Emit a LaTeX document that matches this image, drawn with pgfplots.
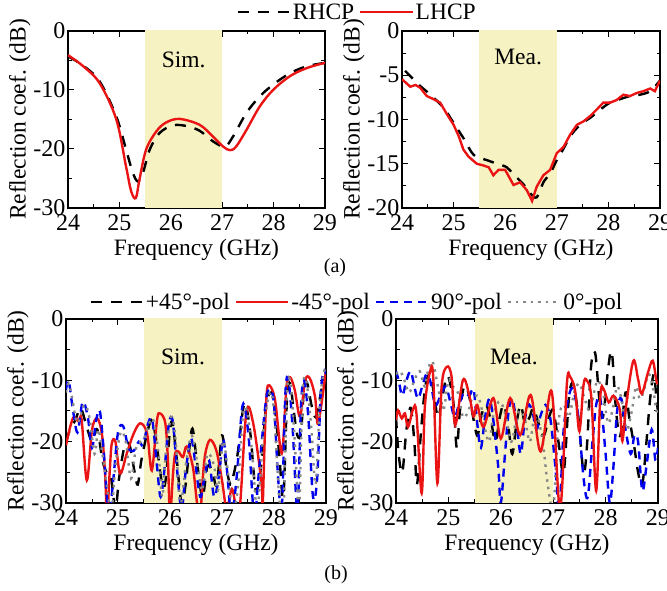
\documentclass[border=0pt]{standalone}
\usepackage{fontspec}
\setmainfont{Liberation Serif}
\usepackage{pgfplots}
\pgfplotsset{compat=1.18}
\definecolor{SimFill}{RGB}{246,242,194}
\definecolor{PolRed}{RGB}{235,20,20}
\definecolor{PolBlue}{RGB}{0,0,240}
\definecolor{PolGray}{RGB}{135,135,135}

\pgfplotsset{
  refax/.style={
    scale only axis, anchor=south west,
    xmin=24, xmax=29,
    xtick={24,25,26,27,28,29}, xticklabels={24,25,26,27,28,29},
    minor x tick num=1, minor y tick num=1,
    axis line style={line width=1.2pt},
    tick style={line width=1pt,black},
    major tick length=6pt, minor tick length=3.5pt,
    tick label style={font=\fontsize{24}{26}\selectfont},
    xticklabel style={yshift=-3pt},
    yticklabel style={xshift=1pt},
    label style={font=\fontsize{23.5}{26}\selectfont},
    xlabel={Frequency (GHz)}, ylabel={Reflection coef. (dB)},
    xlabel style={yshift=-2pt}, ylabel style={yshift=-4pt},
    legend style={draw=none, fill=none, font=\fontsize{23.5}{26}\selectfont, anchor=center,
      /tikz/every even column/.append style={column sep=3pt}},
    legend image code/.code={\draw[#1] plot coordinates {(0pt,0pt) (26pt,0pt) (52pt,0pt)};},
  },
  kdash/.style={black, line width=2.4pt, dash pattern=on 11pt off 9pt, smooth, tension=0.55},
  rsolid/.style={PolRed, line width=2.4pt, smooth, tension=0.55},
  bdash/.style={PolBlue, line width=2.4pt, dash pattern=on 8pt off 6pt, smooth, tension=0.55},
  gdot/.style={PolGray, line width=2.4pt, dash pattern=on 2.5pt off 5pt, smooth, tension=0.55},
}

\begin{document}
\begin{tikzpicture}[x=1pt,y=1pt]
\useasboundingbox (0,0) rectangle (667,591);

% (a) simulated
\begin{axis}[refax, at={(68pt,383pt)}, width=257pt, height=177pt,
  ymin=-30, ymax=0, ytick={-30,-20,-10,0}, yticklabels={-30,-20,-10,0},
  legend columns=2, legend style={at={(1.125,1.107)}}]
  \addplot[draw=none, fill=SimFill, forget plot] coordinates {(25.5,-40) (27,-40) (27,10) (25.5,10)} -- cycle;
  \node[font=\fontsize{23.5}{26}\selectfont] at (axis cs:26.25,-4.9) {Sim.};
  \addplot[kdash] coordinates {
    (24.00,-4.3) (24.30,-5.9) (24.62,-8.6) (24.94,-14.5) (25.13,-20.1) (25.26,-24.0)
    (25.36,-25.5) (25.46,-24.0) (25.59,-20.1) (25.78,-17.3) (26.04,-16.0) (26.30,-16.1)
    (26.56,-16.9) (26.82,-18.7) (27.05,-19.6) (27.21,-17.9) (27.47,-13.9) (27.73,-11.1)
    (27.99,-9.1) (28.31,-7.2) (28.64,-6.0) (29.00,-5.4)};
  \addplot[rsolid] coordinates {
    (24.00,-4.1) (24.30,-6.0) (24.62,-8.9) (24.94,-15.0) (25.13,-23.0) (25.23,-27.2)
    (25.32,-28.3) (25.39,-25.2) (25.52,-20.1) (25.72,-17.0) (25.91,-15.5) (26.17,-14.9)
    (26.56,-15.9) (26.82,-17.9) (27.02,-19.6) (27.15,-20.2) (27.27,-19.6) (27.47,-16.8)
    (27.73,-12.8) (27.99,-10.0) (28.31,-7.7) (28.64,-6.3) (29.00,-5.4)};
  \legend{RHCP, LHCP}
\end{axis}

% (a) measured
\begin{axis}[refax, at={(402pt,383pt)}, width=258pt, height=177pt,
  ymin=-20, ymax=0, ytick={-20,-15,-10,-5,0}, yticklabels={-20,-15,-10,-5,0}]
  \addplot[draw=none, fill=SimFill] coordinates {(25.5,-40) (27,-40) (27,10) (25.5,10)} -- cycle;
  \node[font=\fontsize{23.5}{26}\selectfont] at (axis cs:26.25,-2.9) {Mea.};
  \addplot[kdash] coordinates {
    (24.06,-4.5) (24.16,-5.1) (24.35,-6.2) (24.55,-7.2) (24.81,-8.7) (25.00,-10.4)
    (25.19,-12.1) (25.39,-14.0) (25.65,-14.6) (25.84,-15.0) (26.03,-15.4) (26.16,-16.2)
    (26.35,-17.3) (26.48,-18.3) (26.61,-18.8) (26.74,-17.1) (26.87,-16.1) (27.00,-14.6)
    (27.13,-13.3) (27.26,-11.9) (27.45,-10.6) (27.65,-9.8) (27.84,-8.9) (28.03,-8.1)
    (28.23,-7.7) (28.42,-7.35) (28.61,-7.2) (28.81,-6.8) (29.00,-5.6)};
  \addplot[PolRed, line width=2.4pt] coordinates {
    (24.00,-5.45) (24.16,-6.3) (24.26,-6.1) (24.35,-6.4) (24.48,-7.35) (24.61,-7.7)
    (24.74,-8.1) (24.87,-9.4) (25.00,-10.6) (25.10,-11.9) (25.19,-13.4) (25.29,-14.2)
    (25.45,-15.0) (25.58,-15.2) (25.68,-15.4) (25.77,-16.3) (25.87,-15.7) (26.00,-15.7)
    (26.16,-17.4) (26.29,-17.1) (26.42,-18.0) (26.52,-19.2) (26.61,-17.6) (26.74,-16.3)
    (26.87,-15.7) (27.00,-13.8) (27.13,-13.1) (27.26,-11.7) (27.39,-10.6) (27.52,-10.2)
    (27.65,-9.6) (27.77,-8.9) (27.90,-8.1) (28.03,-8.1) (28.16,-7.8) (28.29,-7.2)
    (28.42,-7.35) (28.55,-7.0) (28.68,-6.8) (28.81,-6.5) (28.90,-6.8) (29.00,-5.6)};
\end{axis}

\node[font=\fontsize{20}{22}\selectfont] at (335,323) {(a)};

% (b) simulated
\begin{axis}[refax, at={(66pt,88pt)}, width=260pt, height=184pt,
  ymin=-30, ymax=0, ytick={-30,-20,-10,0}, yticklabels={-30,-20,-10,0},
  legend columns=4, legend style={at={(1.119,1.092)}}]
  \addplot[draw=none, fill=SimFill, forget plot] coordinates {(25.5,-40) (27,-40) (27,10) (25.5,10)} -- cycle;
  \node[font=\fontsize{23.5}{26}\selectfont] at (axis cs:26.25,-6.2) {Sim.};
  \addplot[kdash] coordinates {
    (24.00,-20) (24.08,-18) (24.18,-16.5) (24.28,-14.5) (24.38,-17) (24.50,-20) (24.60,-18)
    (24.70,-23) (24.78,-25) (24.86,-25.5) (24.95,-31) (25.02,-26) (25.12,-21) (25.22,-20.5)
    (25.32,-25) (25.38,-27) (25.45,-23) (25.55,-19) (25.64,-16.5) (25.72,-19) (25.85,-27)
    (25.92,-26) (26.00,-18) (26.05,-17) (26.12,-22) (26.22,-30) (26.30,-27) (26.42,-18)
    (26.50,-22) (26.62,-29) (26.72,-24) (26.82,-25) (26.90,-27) (27.00,-19) (27.08,-24)
    (27.16,-27) (27.22,-25.5) (27.30,-22) (27.40,-15) (27.46,-14) (27.55,-19) (27.65,-28)
    (27.75,-24) (27.85,-14) (27.94,-12) (28.00,-13) (28.10,-22) (28.18,-29) (28.25,-13)
    (28.31,-10.5) (28.38,-15) (28.45,-19) (28.52,-18.5) (28.58,-11) (28.64,-10.5) (28.72,-14)
    (28.80,-16) (28.88,-13) (28.95,-10) (29.00,-9.5)};
  \addplot[rsolid] coordinates {
    (24.00,-20.6) (24.08,-17.6) (24.15,-16.0) (24.24,-16.7) (24.30,-16.4) (24.40,-26.3)
    (24.50,-18.1) (24.60,-16.2) (24.69,-18.7) (24.75,-25) (24.79,-32) (24.84,-25)
    (24.88,-20.3) (24.95,-20.0) (25.04,-25.2) (25.17,-21.9) (25.30,-18.7) (25.43,-17.0)
    (25.56,-18.7) (25.65,-24.7) (25.75,-16.5) (25.81,-15.4) (25.91,-17.0) (25.96,-23)
    (26.00,-32) (26.06,-25) (26.10,-21.9) (26.16,-21.6) (26.25,-22.5) (26.32,-20.8)
    (26.44,-24.1) (26.52,-30) (26.58,-32) (26.63,-26) (26.68,-21.9) (26.77,-19.7)
    (26.89,-21.4) (27.00,-26.3) (27.09,-31) (27.19,-27.7) (27.28,-31) (27.35,-30)
    (27.47,-15.1) (27.60,-17.0) (27.76,-26.8) (27.78,-31) (27.82,-20) (27.86,-12.1)
    (27.91,-10.8) (28.02,-13.2) (28.15,-21.9) (28.24,-11.0) (28.31,-9.5) (28.40,-11.6)
    (28.50,-15.9) (28.60,-10.0) (28.69,-9.7) (28.79,-12.7) (28.85,-17.0) (29.00,-8.3)};
  \addplot[bdash] coordinates {
    (24.00,-11.5) (24.05,-10) (24.12,-14) (24.22,-18.5) (24.32,-13.5) (24.42,-16) (24.50,-21)
    (24.58,-16.5) (24.65,-15) (24.72,-21) (24.82,-32) (24.90,-27) (25.00,-18.5) (25.10,-17.5)
    (25.20,-21) (25.30,-21.5) (25.40,-20) (25.48,-20.5) (25.58,-17) (25.66,-16.5) (25.75,-24)
    (25.82,-29) (25.90,-24) (25.98,-17) (26.05,-16.5) (26.12,-23) (26.22,-31) (26.30,-25)
    (26.40,-19.5) (26.48,-23) (26.58,-29) (26.66,-26) (26.75,-23) (26.85,-29) (26.95,-25)
    (27.02,-19.5) (27.10,-25) (27.18,-32) (27.28,-26) (27.38,-15) (27.44,-14.5) (27.52,-20)
    (27.62,-32) (27.72,-24) (27.85,-13) (27.93,-11.5) (28.00,-14) (28.08,-26) (28.15,-31)
    (28.22,-12) (28.28,-10) (28.36,-18) (28.45,-31) (28.52,-14) (28.58,-10) (28.66,-16)
    (28.75,-29) (28.83,-26) (28.90,-12) (28.96,-8.5) (29.00,-9)};
  \addplot[gdot] coordinates {
    (24.00,-12) (24.05,-10.5) (24.12,-13) (24.22,-17) (24.35,-14) (24.45,-16) (24.55,-22)
    (24.62,-18) (24.70,-22) (24.80,-28) (24.87,-32) (24.95,-24) (25.05,-18.5) (25.15,-20)
    (25.25,-26) (25.35,-21) (25.50,-19.5) (25.60,-17) (25.68,-16.5) (25.78,-22) (25.85,-29)
    (25.92,-22) (26.02,-16) (26.10,-19) (26.20,-30) (26.30,-24) (26.42,-19) (26.55,-25)
    (26.62,-28) (26.72,-22) (26.85,-24) (26.92,-28) (27.02,-20) (27.10,-24) (27.20,-31)
    (27.30,-28) (27.40,-16) (27.48,-15) (27.58,-22) (27.68,-31) (27.80,-18) (27.92,-12)
    (28.00,-15) (28.10,-29) (28.18,-32) (28.25,-12) (28.32,-10.5) (28.40,-20) (28.48,-31)
    (28.55,-12) (28.62,-10) (28.72,-18) (28.80,-27) (28.88,-14) (28.95,-9) (29.00,-8)};
  \legend{+45°-pol, -45°-pol, 90°-pol, 0°-pol}
\end{axis}

% (b) measured
\begin{axis}[refax, at={(396pt,88pt)}, width=262pt, height=184pt,
  ymin=-30, ymax=0, ytick={-30,-20,-10,0}, yticklabels={-30,-20,-10,0}]
  \addplot[draw=none, fill=SimFill] coordinates {(25.5,-40) (27,-40) (27,10) (25.5,10)} -- cycle;
  \node[font=\fontsize{23.5}{26}\selectfont] at (axis cs:26.25,-6.2) {Mea.};
  \addplot[kdash] coordinates {
    (24.00,-16) (24.05,-22) (24.12,-25) (24.20,-18) (24.28,-14.5) (24.35,-20) (24.40,-27)
    (24.48,-18) (24.56,-11) (24.65,-9) (24.72,-12) (24.80,-16) (24.88,-13) (24.96,-9.5)
    (25.02,-10) (25.10,-14) (25.16,-21) (25.22,-15) (25.30,-11) (25.38,-12) (25.45,-15)
    (25.55,-19) (25.62,-16) (25.72,-14) (25.82,-17) (25.90,-20) (25.98,-16) (26.06,-14)
    (26.15,-18) (26.22,-22) (26.30,-17) (26.38,-14) (26.46,-17) (26.55,-16) (26.62,-14.5)
    (26.72,-17) (26.82,-19) (26.92,-16) (27.00,-15) (27.10,-20) (27.20,-25) (27.30,-13)
    (27.38,-10.5) (27.48,-16) (27.58,-25) (27.65,-20) (27.72,-8) (27.80,-5.5) (27.88,-13)
    (27.95,-16) (28.05,-8) (28.12,-5.5) (28.20,-15) (28.28,-19) (28.38,-12) (28.45,-16)
    (28.55,-21) (28.62,-25) (28.70,-27) (28.78,-20) (28.85,-13) (28.92,-9) (28.97,-13)
    (29.00,-15)};
  \addplot[bdash] coordinates {
    (24.00,-8.5) (24.05,-10) (24.12,-12.5) (24.20,-10) (24.28,-8.5) (24.35,-11) (24.42,-13)
    (24.50,-11) (24.58,-9) (24.65,-10) (24.75,-14) (24.85,-12.5) (24.95,-11) (25.05,-14)
    (25.12,-16) (25.20,-14) (25.30,-12) (25.40,-12.5) (25.48,-11.5) (25.55,-17) (25.62,-21)
    (25.70,-16) (25.78,-13) (25.85,-16) (25.95,-24) (26.00,-30) (26.08,-22) (26.15,-15)
    (26.22,-13) (26.30,-17) (26.38,-22) (26.45,-17) (26.52,-14) (26.60,-15) (26.68,-18)
    (26.75,-16) (26.85,-14) (26.95,-16.5) (27.05,-25) (27.12,-31) (27.20,-18) (27.30,-12.5)
    (27.38,-11.5) (27.48,-16) (27.58,-26) (27.66,-29) (27.75,-20) (27.82,-14) (27.90,-13)
    (28.00,-22) (28.08,-30) (28.15,-24) (28.22,-15) (28.30,-13) (28.38,-18) (28.48,-22)
    (28.55,-19) (28.62,-20) (28.70,-28) (28.78,-24) (28.88,-18) (28.95,-23) (29.00,-21)};
  \addplot[gdot] coordinates {
    (24.00,-9) (24.08,-8.5) (24.16,-10) (24.25,-12) (24.35,-10) (24.45,-8.5) (24.55,-11)
    (24.62,-8) (24.70,-7) (24.80,-11) (24.90,-15) (25.00,-10) (25.08,-11) (25.18,-12)
    (25.28,-16) (25.38,-15) (25.45,-13) (25.55,-12.5) (25.62,-14) (25.70,-18) (25.78,-20)
    (25.85,-16) (25.92,-14) (26.00,-13.5) (26.10,-16) (26.20,-20) (26.28,-17) (26.35,-15)
    (26.45,-16) (26.55,-20) (26.62,-17) (26.70,-16) (26.80,-20) (26.88,-26) (26.95,-30)
    (27.00,-32) (27.10,-17) (27.20,-14) (27.30,-16) (27.40,-12) (27.50,-10.5) (27.60,-13)
    (27.70,-15) (27.78,-12) (27.85,-10) (27.95,-12) (28.05,-17) (28.15,-14) (28.22,-11)
    (28.30,-13) (28.40,-18) (28.50,-15) (28.58,-11) (28.65,-13) (28.72,-12) (28.82,-9)
    (28.90,-11) (28.97,-15) (29.00,-14)};
  \addplot[rsolid] coordinates {
    (24.00,-16.5) (24.04,-14.9) (24.11,-16.2) (24.17,-15.4) (24.23,-17.6) (24.33,-14.6)
    (24.39,-15.4) (24.49,-28.4) (24.55,-14.4) (24.65,-8.6) (24.71,-9.4) (24.79,-26.8)
    (24.87,-11.1) (24.97,-7.8) (25.06,-9.4) (25.13,-17.3) (25.28,-9.9) (25.40,-12.5)
    (25.48,-15.9) (25.55,-14) (25.67,-17.6) (25.86,-12.9) (26.00,-19.5) (26.18,-12.9)
    (26.37,-18.9) (26.57,-12.4) (26.76,-21.6) (26.97,-11.8) (27.13,-31) (27.26,-10.7)
    (27.32,-9.4) (27.42,-11.8) (27.50,-18.3) (27.58,-10.7) (27.64,-10.0) (27.73,-13.0)
    (27.82,-28.0) (27.90,-12.5) (27.96,-11.4) (28.06,-13.6) (28.15,-12.5) (28.27,-14.7)
    (28.32,-19.9) (28.40,-13.6) (28.53,-6.8) (28.62,-9.8) (28.69,-12.2) (28.81,-8.7)
    (28.90,-6.8) (28.97,-10.1) (29.00,-10.5)};
\end{axis}

\node[font=\fontsize{20}{22}\selectfont] at (336,16) {(b)};
\end{tikzpicture}
\end{document}
